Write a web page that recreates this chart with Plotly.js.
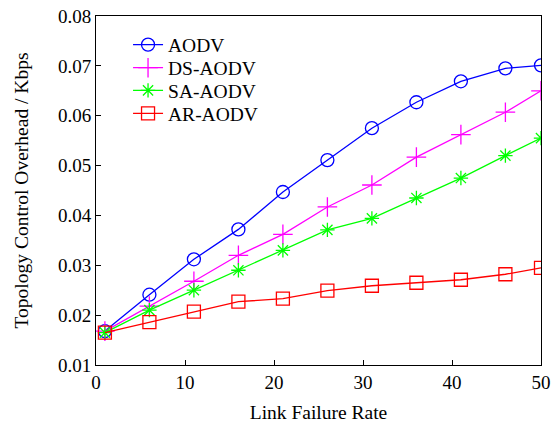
<!DOCTYPE html>
<html>
<head>
<meta charset="utf-8">
<script src="https://cdn.plot.ly/plotly-3.0.1.min.js"></script>
<style>html,body{margin:0;padding:0;background:#fff;}#chart{width:551px;height:423px;}</style>
</head>
<body>
<div id="chart"></div>
<script>
const xValues = [1, 6, 11, 16, 21, 26, 31, 36, 41, 46, 50];
const aodv = [0.0168, 0.0241, 0.0312, 0.0372, 0.0447, 0.0511, 0.0575, 0.0627, 0.0669, 0.0695, 0.0701];
const dsAodv = [0.0168, 0.0218, 0.0268, 0.0320, 0.0362, 0.0417, 0.0461, 0.0517, 0.0562, 0.0607, 0.0650];
const saAodv = [0.0165, 0.0210, 0.0250, 0.0290, 0.0330, 0.0371, 0.0394, 0.0435, 0.0475, 0.0520, 0.0555];
const arAodv = [0.0165, 0.0186, 0.0207, 0.0227, 0.0233, 0.0249, 0.0259, 0.0265, 0.0271, 0.0282, 0.0295];
const seriesNames = ['AODV', 'DS-AODV', 'SA-AODV', 'AR-AODV'];
const xTicks = [0, 10, 20, 30, 40, 50];
const yTicks = [0.01, 0.02, 0.03, 0.04, 0.05, 0.06, 0.07, 0.08];

const font = 'Liberation Serif, Times New Roman, serif';
function tr(name, y, color, symbol, size, legendId) {
  return {
    x: xValues, y: y, name: name, type: 'scatter', mode: 'lines+markers',
    legend: legendId,
    line: {color: color, width: 1.3},
    marker: {symbol: symbol, size: size, color: color, line: {color: color, width: 1.3}}
  };
}
const data = [
  tr(seriesNames[0], aodv, '#0000ff', 'circle-open', 13, 'legend'),
  tr(seriesNames[1], dsAodv, '#ff00ff', 'cross-thin-open', 14, 'legend2'),
  tr(seriesNames[2], saAodv, '#00ff00', 'asterisk-open', 12, 'legend3'),
  tr(seriesNames[3], arAodv, '#ff0000', 'square-open', 13, 'legend4')
];
function leg(y) {
  return {x: 0.072, y: y, xanchor: 'left', yanchor: 'middle', bgcolor: 'rgba(0,0,0,0)',
          font: {family: font, size: 19.5, color: '#000'}};
}
const layout = {
  width: 551, height: 423,
  margin: {l: 96, r: 10, t: 16, b: 58},
  paper_bgcolor: '#fff', plot_bgcolor: '#fff',
  font: {family: font, size: 19, color: '#000'},
  showlegend: true,
  legend: leg(0.917), legend2: leg(0.851), legend3: leg(0.786), legend4: leg(0.72),
  xaxis: {
    range: [0, 50], tickvals: xTicks, ticktext: xTicks.map(String),
    ticks: 'inside', ticklen: 5, tickcolor: '#000', showgrid: false, zeroline: false,
    showline: true, mirror: true, linecolor: '#000', linewidth: 1,
    tickfont: {family: font, size: 19},
    title: {text: 'Link Failure Rate', font: {family: font, size: 19.5}, standoff: 18}
  },
  yaxis: {
    range: [0.01, 0.08], tickvals: yTicks, ticktext: yTicks.map(v => v.toFixed(2)),
    ticks: 'inside', ticklen: 5, tickcolor: '#000', showgrid: false, zeroline: false,
    showline: true, mirror: true, linecolor: '#000', linewidth: 1,
    tickfont: {family: font, size: 19},
    title: {text: 'Topology Control Overhead / Kbps', font: {family: font, size: 19.5}, standoff: 24}
  }
};
Plotly.newPlot('chart', data, layout, {displayModeBar: false, staticPlot: true});
</script>
</body>
</html>
